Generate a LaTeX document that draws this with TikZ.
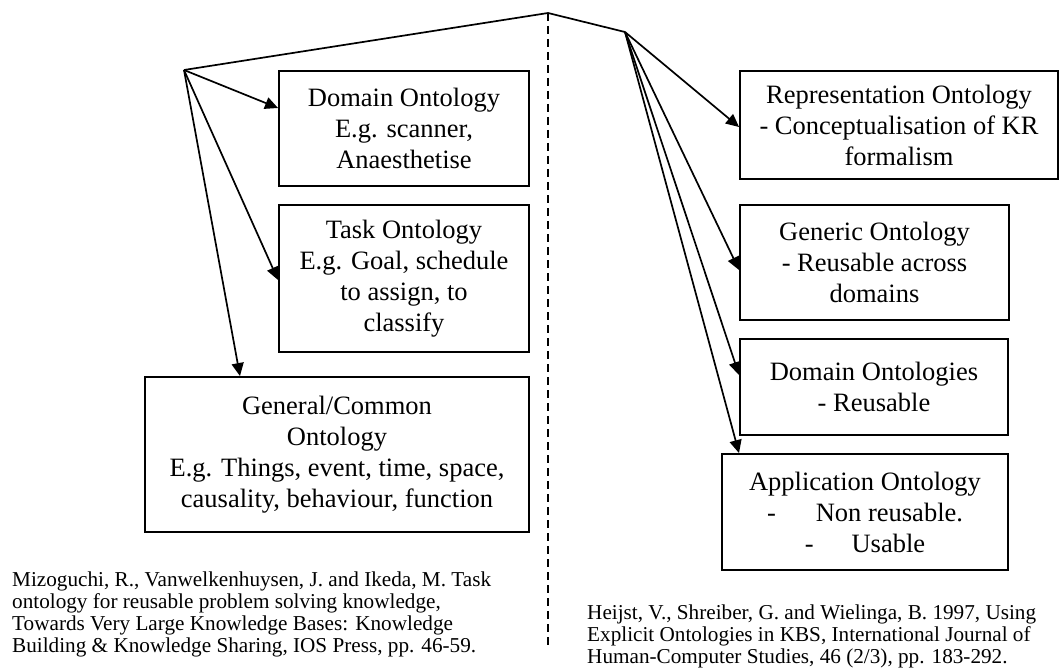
\documentclass[tikz,border=0pt]{standalone}
\usepackage{fontspec}
\setmainfont{Liberation Serif}
\usetikzlibrary{arrows.meta}
\begin{document}
\begin{tikzpicture}[x=1pt,y=-1pt,
  box/.style={draw,line width=1.9pt,inner sep=0pt,align=center,
    font=\fontsize{26.5}{31}\selectfont},
  cite/.style={inner sep=0pt,align=left,anchor=north west,
    font=\fontsize{21.2}{21.7}\selectfont},
  link/.style={line width=1.7pt},
  arr/.style={link,-{Triangle[length=13pt,width=12pt]}},
  divider/.style={line width=1.5pt,dash pattern=on 8pt off 5pt}]
\useasboundingbox (0,0) rectangle (1059,671);

% branch points
\coordinate (apex) at (548,13);
\coordinate (lhub) at (184,70);
\coordinate (rhub) at (625,32);
\coordinate (divend) at (548,648);

% left column
\node[box,minimum width=250pt,minimum height=115pt] (dom) at (404,128.5)
  {Domain Ontology\\E.g. scanner,\\Anaesthetise};
\node[box,minimum width=250pt,minimum height=147pt] (task) at (404,278.5)
  {Task Ontology\\E.g. Goal, schedule\\to assign, to\\classify};
\node[box,minimum width=384pt,minimum height=155pt] (gen) at (337,454.5)
  {General/Common\\Ontology\\E.g. Things, event, time, space,\\causality, behaviour, function};

% right column
\node[box,minimum width=318pt,minimum height=108pt] (rep) at (899,125)
  {Representation Ontology\\- Conceptualisation of KR\\formalism};
\node[box,minimum width=269pt,minimum height=115pt] (generic) at (874.5,262.5)
  {Generic Ontology\\- Reusable across\\domains};
\node[box,minimum width=268pt,minimum height=96pt] (domo) at (874,387)
  {Domain Ontologies\\- Reusable};
\node[box,minimum width=286pt,minimum height=116pt] (app) at (865,512)
  {Application Ontology\\-\hspace{40pt}Non reusable.\\-\hspace{38pt}Usable};

% references
\node[cite] (refl) at (12,572)
  {Mizoguchi, R., Vanwelkenhuysen, J. and Ikeda, M. Task\\
   ontology for reusable problem solving knowledge,\\
   Towards Very Large Knowledge Bases: Knowledge\\
   Building \& Knowledge Sharing, IOS Press, pp. 46-59.};
\node[cite] (refr) at (587,605)
  {Heijst, V., Shreiber, G. and Wielinga, B. 1997, Using\\
   Explicit Ontologies in KBS, International Journal of\\
   Human-Computer Studies, 46 (2/3), pp. 183-292.};

% connectors
\draw[link] (lhub) -- (apex) -- (rhub);
\draw[divider] (apex) -- (divend);

\draw[arr] (lhub) -- (dom.west |- 0,108);
\draw[arr] (lhub) -- (task.west |- 0,280);
\draw[arr] (lhub) -- (gen.north -| 240,0);

\draw[arr] (rhub) -- (rep.west |- 0,127);
\draw[arr] (rhub) -- (generic.west |- 0,270);
\draw[arr] (rhub) -- (domo.west |- 0,375);
\draw[arr] (rhub) -- (app.north -| 739,0);
\end{tikzpicture}
\end{document}
